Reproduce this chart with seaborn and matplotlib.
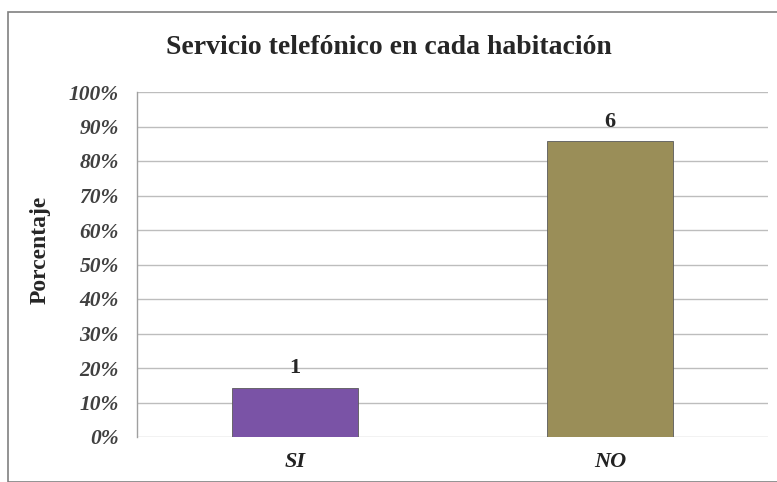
import numpy as np
import pandas as pd
from matplotlib import pyplot as plt
from matplotlib.patches import Rectangle
import seaborn as sns

# data
categorias = ['SI', 'NO']
conteos = [1, 6]
colores = ['#7A53A6', '#9A8E58']
ticks_y = [0, 10, 20, 30, 40, 50, 60, 70, 80, 90, 100]

porcentaje = [100 * c / sum(conteos) for c in conteos]
df = pd.DataFrame({'cat': categorias, 'pct': porcentaje, 'n': conteos})

sns.set_theme(style='white')
plt.rcParams['font.family'] = ['Liberation Serif', 'DejaVu Serif']

fig = plt.figure(figsize=(7.77, 4.82), dpi=100)
ax = fig.add_axes([137/777, 1 - 437/482, 631/777, 345/482])

sns.barplot(data=df, x='cat', y='pct', hue='cat', palette=colores, width=0.4,
            legend=False, ax=ax, saturation=1, edgecolor='#5a5a5a', linewidth=0.6)

ax.set_ylim(0, 100)
ax.set_yticks(ticks_y)
ax.set_yticklabels([f'{t}%' for t in ticks_y], fontsize=15.5, fontweight='bold',
                   style='italic', color='#404040')
ax.set_xticklabels(categorias, fontsize=16, fontweight='bold', style='italic',
                   color='#222222')
ax.tick_params(axis='y', length=0, pad=13)
ax.tick_params(axis='x', length=0, pad=11)
ax.yaxis.grid(True, color='#BDBDBD', linewidth=1)
ax.set_axisbelow(True)
for s in ['top', 'right', 'bottom']:
    ax.spines[s].set_visible(False)
ax.spines['left'].set_color('#A0A0A0')
ax.spines['left'].set_linewidth(1)

ax.set_xlabel('')
ax.set_ylabel('')
fig.text(40/777, 1 - 250/482, 'Porcentaje', rotation=90, ha='center', va='center',
         fontsize=17, fontweight='bold')

for i, (p, n) in enumerate(zip(porcentaje, conteos)):
    ax.annotate(str(n), (i, p), xytext=(0, 7), textcoords='offset points',
                ha='center', va='bottom', fontsize=16, fontweight='bold')

fig.text(0.5, 1 - 47/482, 'Servicio telefónico en cada habitación', ha='center',
         va='center', fontsize=20, fontweight='bold')

# chart frame
fig.patches.append(Rectangle((8/777, 0), 775/777, 1 - 12/482, transform=fig.transFigure,
                             fill=False, edgecolor='#808080', linewidth=1.2))

fig.savefig('out.png', dpi=100)
